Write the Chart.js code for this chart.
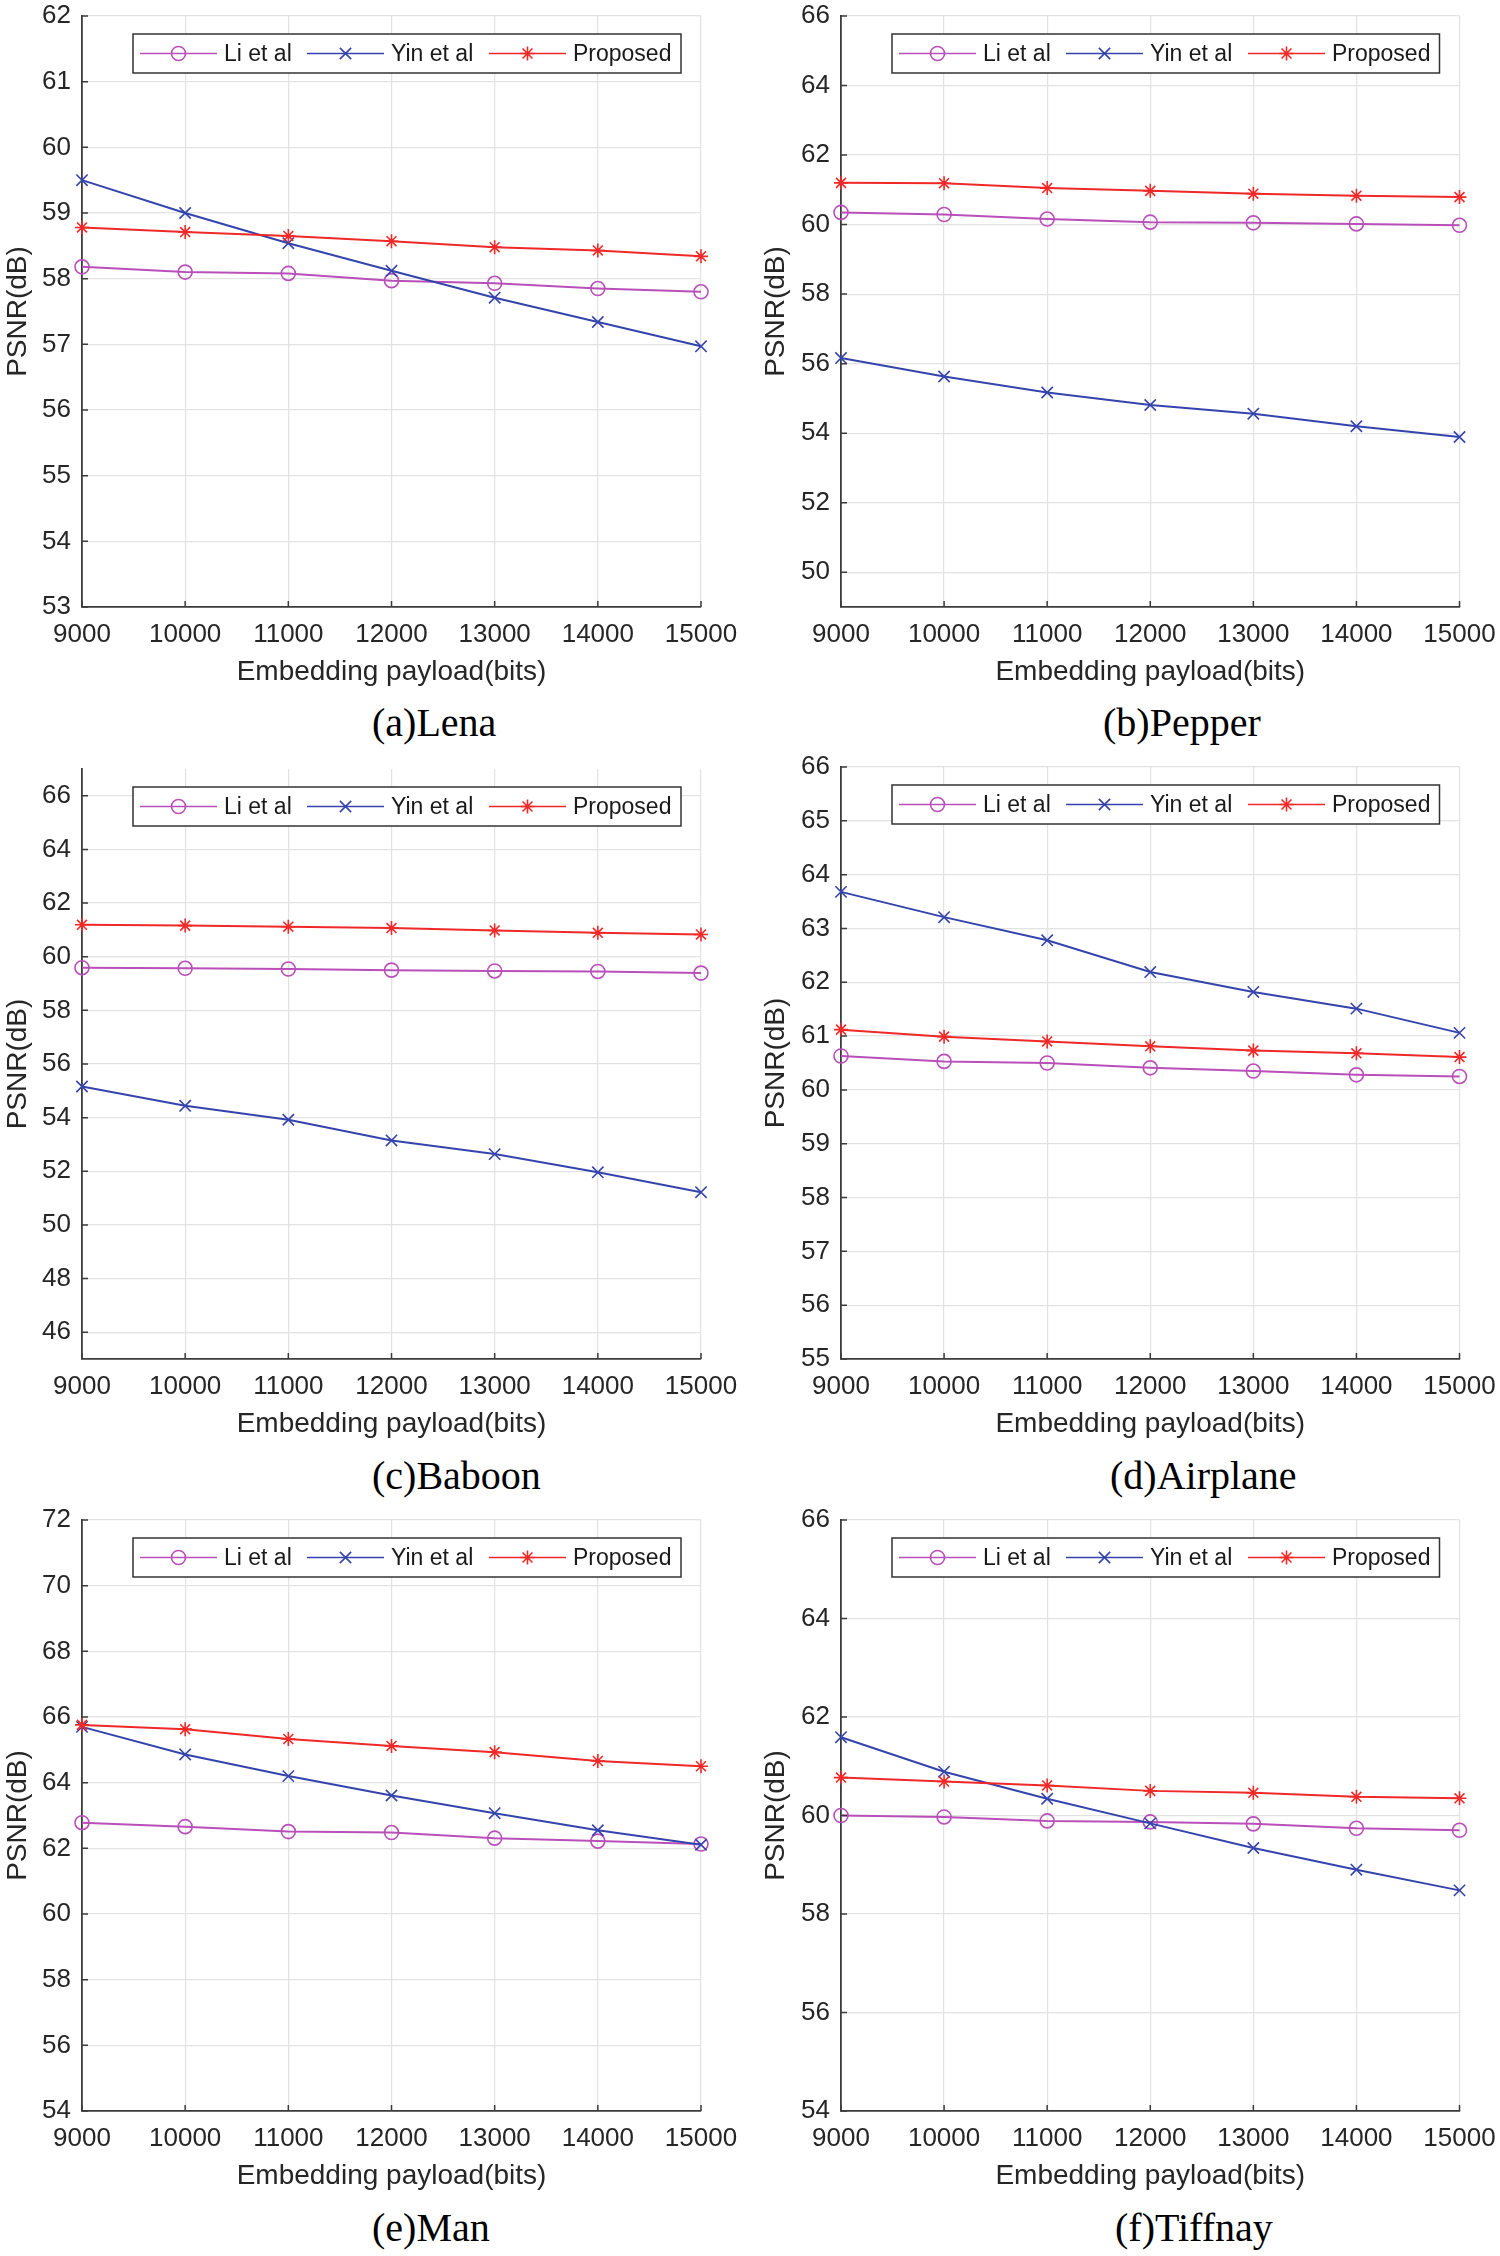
<!DOCTYPE html>
<html lang="en">
  <head>
    <meta charset="UTF-8" />
    <title>PSNR vs embedding payload</title>
    <script src="https://cdn.jsdelivr.net/npm/chart.js@4.4.1/dist/chart.umd.min.js"></script>
    <style>
      body { margin: 0; background: #fff; }
      #page { position: relative; width: 1500px; height: 2256px; overflow: hidden; background: #fff; }
      .panel { position: absolute; }
      .caption {
        position: absolute;
        font-family: "Liberation Serif", "Times New Roman", serif;
        font-size: 40px;
        line-height: 40px;
        color: #000;
        white-space: nowrap;
      }
    </style>
  </head>
  <body>
    <div id="page"></div>
    <script>
      // x axis (payload in bits)
      const payload = [9000, 10000, 11000, 12000, 13000, 14000, 15000];

      // (a) Lena
      const lenaLi = [58.18, 58.1, 58.08, 57.97, 57.93, 57.85, 57.8];
      const lenaYin = [59.5, 59.0, 58.54, 58.12, 57.71, 57.34, 56.97];
      const lenaProposed = [58.78, 58.71, 58.65, 58.57, 58.48, 58.43, 58.34];
      const lenaTicks = [53, 54, 55, 56, 57, 58, 59, 60, 61, 62];

      // (b) Pepper
      const pepperLi = [60.35, 60.29, 60.16, 60.07, 60.05, 60.02, 59.98];
      const pepperYin = [56.16, 55.63, 55.17, 54.81, 54.56, 54.2, 53.89];
      const pepperProposed = [61.2, 61.19, 61.05, 60.97, 60.89, 60.83, 60.79];
      const pepperTicks = [50, 52, 54, 56, 58, 60, 62, 64, 66];

      // (c) Baboon
      const baboonLi = [59.59, 59.57, 59.54, 59.5, 59.47, 59.45, 59.39];
      const baboonYin = [55.16, 54.44, 53.92, 53.15, 52.64, 51.96, 51.22];
      const baboonProposed = [61.19, 61.16, 61.12, 61.07, 60.98, 60.89, 60.83];
      const baboonTicks = [46, 48, 50, 52, 54, 56, 58, 60, 62, 64, 66];

      // (d) Airplane
      const airplaneLi = [60.63, 60.53, 60.5, 60.41, 60.35, 60.28, 60.25];
      const airplaneYin = [63.68, 63.21, 62.78, 62.19, 61.82, 61.51, 61.06];
      const airplaneProposed = [61.12, 60.99, 60.9, 60.81, 60.73, 60.68, 60.61];
      const airplaneTicks = [55, 56, 57, 58, 59, 60, 61, 62, 63, 64, 65, 66];

      // (e) Man
      const manLi = [62.78, 62.66, 62.51, 62.48, 62.31, 62.22, 62.13];
      const manYin = [65.7, 64.86, 64.2, 63.61, 63.07, 62.55, 62.11];
      const manProposed = [65.76, 65.63, 65.33, 65.12, 64.93, 64.66, 64.5];
      const manTicks = [54, 56, 58, 60, 62, 64, 66, 68, 70, 72];

      // (f) Tiffnay
      const tiffnayLi = [60.0, 59.97, 59.89, 59.87, 59.83, 59.74, 59.7];
      const tiffnayYin = [61.59, 60.89, 60.34, 59.84, 59.34, 58.9, 58.48];
      const tiffnayProposed = [60.77, 60.69, 60.61, 60.5, 60.46, 60.38, 60.35];
      const tiffnayTicks = [54, 56, 58, 60, 62, 64, 66];

      const seriesNames = ["Li et al", "Yin et al", "Proposed"];

      const liColor = "#b94fb9";
      const yinColor = "#3544ac";
      const proposedColor = "#f02828";
      const gridColor = "#e2e2e2";
      const axisColor = "#3c3c3c";
      const textColor = "#262626";
      const sans = "'Liberation Sans', Arial, Helvetica, sans-serif";

      // layout of the six panels (page pixels)
      const panels = [
        { caption: "(a)Lena", li: lenaLi, yin: lenaYin, proposed: lenaProposed, ticks: lenaTicks, yMin: 53, yMax: 62, col: 0, plotTop: 16, plotBottom: 607, capX: 372, capY: 703 },
        { caption: "(b)Pepper", li: pepperLi, yin: pepperYin, proposed: pepperProposed, ticks: pepperTicks, yMin: 49, yMax: 66, col: 1, plotTop: 16, plotBottom: 607, capX: 1103, capY: 703 },
        { caption: "(c)Baboon", li: baboonLi, yin: baboonYin, proposed: baboonProposed, ticks: baboonTicks, yMin: 45, yMax: 67, col: 0, plotTop: 769, plotBottom: 1359, capX: 372, capY: 1456 },
        { caption: "(d)Airplane", li: airplaneLi, yin: airplaneYin, proposed: airplaneProposed, ticks: airplaneTicks, yMin: 55, yMax: 66, col: 1, plotTop: 767, plotBottom: 1359, capX: 1110, capY: 1456 },
        { caption: "(e)Man", li: manLi, yin: manYin, proposed: manProposed, ticks: manTicks, yMin: 54, yMax: 72, col: 0, plotTop: 1520, plotBottom: 2111, capX: 372, capY: 2208 },
        { caption: "(f)Tiffnay", li: tiffnayLi, yin: tiffnayYin, proposed: tiffnayProposed, ticks: tiffnayTicks, yMin: 54, yMax: 66, col: 1, plotTop: 1520, plotBottom: 2111, capX: 1115, capY: 2208 },
      ];

      // matlab style ticks pointing into the axes
      const innerTicks = {
        id: "innerTicks",
        afterDraw(chart) {
          const { ctx, chartArea: a, scales } = chart;
          ctx.save();
          ctx.strokeStyle = axisColor;
          ctx.lineWidth = 1.5;
          ctx.beginPath();
          scales.x.ticks.forEach((t) => {
            const px = scales.x.getPixelForValue(t.value);
            ctx.moveTo(px, a.bottom);
            ctx.lineTo(px, a.bottom - 6);
          });
          scales.y.ticks.forEach((t) => {
            const py = scales.y.getPixelForValue(t.value);
            ctx.moveTo(a.left, py);
            ctx.lineTo(a.left + 6, py);
          });
          ctx.stroke();
          ctx.restore();
        },
      };

      // boxed horizontal legend inside the axes, top right
      const boxLegend = {
        id: "boxLegend",
        afterDraw(chart) {
          const { ctx, chartArea: a } = chart;
          const bx = a.left + 51;
          const by = a.top + 18;
          const bw = a.right - 20 - bx;
          const bh = 39;
          ctx.save();
          ctx.fillStyle = "#fff";
          ctx.fillRect(bx, by, bw, bh);
          ctx.strokeStyle = "#333";
          ctx.lineWidth = 1.5;
          ctx.strokeRect(bx, by, bw, bh);
          const offsets = [7, 174, 356];
          const cy = by + bh / 2;
          chart.data.datasets.forEach((ds, i) => {
            const x0 = bx + offsets[i];
            ctx.strokeStyle = ds.borderColor;
            ctx.lineWidth = 1.7;
            ctx.beginPath();
            ctx.moveTo(x0, cy);
            ctx.lineTo(x0 + 77, cy);
            ctx.stroke();
            ctx.fillStyle = "rgba(0,0,0,0)";
            ctx.lineWidth = ds.pointBorderWidth;
            Chart.helpers.drawPoint(ctx, { pointStyle: ds.pointStyle, radius: ds.pointRadius, borderWidth: ds.pointBorderWidth, rotation: 0 }, x0 + 38.5, cy);
            ctx.fillStyle = "#1a1a1a";
            ctx.font = "23px " + sans;
            ctx.textBaseline = "middle";
            ctx.textAlign = "left";
            ctx.fillText(ds.label, x0 + 84, cy + 1);
          });
          ctx.restore();
        },
      };

      function makeSeries(label, values, color, style, radius, order) {
        return {
          label,
          data: payload.map((x, i) => ({ x, y: values[i] })),
          borderColor: color,
          borderWidth: 2,
          pointStyle: style,
          pointRadius: radius,
          pointBorderColor: color,
          pointBackgroundColor: "rgba(0,0,0,0)",
          pointBorderWidth: 1.6,
          tension: 0,
          clip: false,
          order,
        };
      }

      const page = document.getElementById("page");

      panels.forEach((p) => {
        const yWidth = p.col ? 91 : 82;
        const plotRight = p.col ? 709.5 : 701;
        const canvasW = 800;
        const h = 30 + (p.plotBottom - p.plotTop) + 90;
        const div = document.createElement("div");
        div.className = "panel";
        div.style.left = p.col * 750 + "px";
        div.style.top = p.plotTop - 30 + "px";
        const canvas = document.createElement("canvas");
        canvas.width = canvasW;
        canvas.height = h;
        canvas.style.width = canvasW + "px";
        canvas.style.height = h + "px";
        div.appendChild(canvas);
        page.appendChild(div);

        const cap = document.createElement("div");
        cap.className = "caption";
        cap.style.left = p.capX + "px";
        cap.style.top = p.capY + "px";
        cap.textContent = p.caption;
        page.appendChild(cap);

        new Chart(canvas, {
          type: "line",
          data: {
            datasets: [
              makeSeries(seriesNames[0], p.li, liColor, "circle", 7, 3),
              makeSeries(seriesNames[1], p.yin, yinColor, "crossRot", 8, 2),
              makeSeries(seriesNames[2], p.proposed, proposedColor, "star", 7, 1),
            ],
          },
          options: {
            responsive: false,
            animation: false,
            devicePixelRatio: 1,
            layout: { padding: { top: 30, right: canvasW - plotRight, bottom: 0, left: 0 } },
            plugins: { legend: { display: false }, tooltip: { enabled: false } },
            scales: {
              x: {
                type: "linear",
                min: 9000,
                max: 15000,
                afterBuildTicks: (s) => {
                  s.ticks = payload.map((v) => ({ value: v }));
                },
                afterFit: (s) => {
                  s.height = 90;
                },
                grid: { color: gridColor, lineWidth: 1.2, drawTicks: false },
                border: { color: axisColor, width: 1.8 },
                ticks: {
                  font: { family: sans, size: 26 },
                  color: textColor,
                  padding: 12,
                  maxRotation: 0,
                  autoSkip: false,
                  callback: (v) => String(v),
                },
                title: {
                  display: true,
                  text: "Embedding payload(bits)",
                  font: { family: sans, size: 28, lineHeight: 1 },
                  color: textColor,
                  padding: { top: 0, bottom: 11 },
                },
              },
              y: {
                min: p.yMin,
                max: p.yMax,
                afterBuildTicks: (s) => {
                  s.ticks = p.ticks.map((v) => ({ value: v }));
                },
                afterFit: (s) => {
                  s.width = yWidth;
                },
                grid: { color: gridColor, lineWidth: 1.2, drawTicks: false },
                border: { color: axisColor, width: 1.8 },
                ticks: {
                  font: { family: sans, size: 26 },
                  color: textColor,
                  padding: 11,
                  autoSkip: false,
                  callback: (v) => String(v),
                },
                title: {
                  display: true,
                  text: "PSNR(dB)",
                  font: { family: sans, size: 28, lineHeight: 1 },
                  color: textColor,
                  padding: { top: p.col ? 12 : 4, bottom: 0 },
                },
              },
            },
          },
          plugins: [innerTicks, boxLegend],
        });
      });
    </script>
  </body>
</html>
